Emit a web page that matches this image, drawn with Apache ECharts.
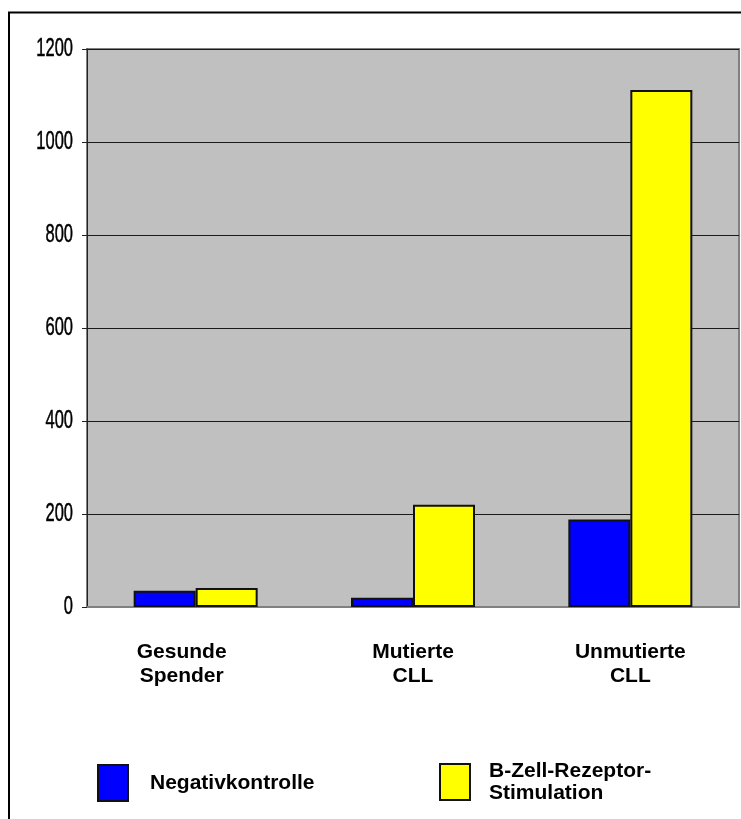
<!DOCTYPE html>
<html>
<head>
<meta charset="utf-8">
<script src="https://cdn.jsdelivr.net/npm/echarts@6/dist/echarts.min.js"></script>
<style>
  html, body { margin: 0; padding: 0; background: #ffffff; }
  #chart { width: 741px; height: 819px; }
</style>
</head>
<body>
<div id="chart"></div>
<script>
// Groups along the x axis and the two measured conditions
const categories = ['Gesunde\nSpender', 'Mutierte\nCLL', 'Unmutierte\nCLL'];
const negativkontrolle = [35, 20, 188];
const bzrStimulation = [41, 220, 1112];
const yTicks = [0, 200, 400, 600, 800, 1000, 1200];

const seriesNames = ['Negativkontrolle', 'B-Zell-Rezeptor-Stimulation'];
const labelShift = [28, 0, 0]; // extra right padding nudging wrapped labels left

const chart = echarts.init(document.getElementById('chart'), null, { renderer: 'canvas' });

const barBorder = { borderColor: '#111111', borderWidth: 2 };
const boldFont = 'Liberation Sans, Arial, sans-serif';

chart.setOption({
  animation: false,
  backgroundColor: '#ffffff',
  graphic: [{
    id: 'frame',
    type: 'rect',
    z: -10,
    shape: { x: 9, y: 12.5, width: 900, height: 900 },
    style: { fill: 'none', stroke: '#000000', lineWidth: 2 }
  }],
  grid: {
    left: 87, top: 49, right: 2, bottom: 212,
    show: true,
    backgroundColor: '#c0c0c0',
    borderColor: '#808080',
    borderWidth: 2
  },
  legend: [
    {
      data: [seriesNames[0]],
      left: 97, top: 764,
      padding: 0,
      icon: 'rect',
      itemWidth: 30, itemHeight: 36,
      itemStyle: { borderColor: '#111111', borderWidth: 2 },
      textStyle: {
        fontFamily: boldFont,
        fontWeight: 'bold', fontSize: 21, color: '#000000',
        padding: [0, 0, 4, 17]
      }
    },
    {
      data: [seriesNames[1]],
      left: 439, top: 753,
      padding: 0,
      icon: 'rect',
      itemWidth: 30, itemHeight: 36,
      itemStyle: { borderColor: '#111111', borderWidth: 2 },
      formatter: function (name) { return name.replace('Rezeptor-', 'Rezeptor-\n'); },
      textStyle: {
        fontFamily: boldFont,
        fontWeight: 'bold', fontSize: 21, color: '#000000',
        lineHeight: 22,
        padding: [0, 0, 14, 14]
      }
    }
  ],
  xAxis: {
    type: 'category',
    data: categories.map(function (c, i) {
      return { value: c, textStyle: { padding: [0, labelShift[i], 0, 0] } };
    }),
    axisLine: { lineStyle: { color: '#808080', width: 2 } },
    axisTick: { show: false },
    axisLabel: {
      margin: 33,
      fontFamily: boldFont,
      fontWeight: 'bold', fontSize: 21, lineHeight: 24,
      color: '#000000'
    },
    splitLine: { show: false }
  },
  yAxis: {
    type: 'value',
    min: yTicks[0],
    max: yTicks[yTicks.length - 1],
    interval: yTicks[1] - yTicks[0],
    axisLine: { show: true, lineStyle: { color: '#222222', width: 1 } },
    axisTick: { show: true, inside: false, length: 5, lineStyle: { color: '#222222' } },
    // tick numbers are drawn below as condensed text
    axisLabel: { show: false },
    splitLine: { show: true, lineStyle: { color: '#1a1a1a', width: 1 } }
  },
  series: [
    {
      name: seriesNames[0],
      type: 'bar',
      data: negativkontrolle,
      barWidth: 62,
      barGap: '0%',
      itemStyle: Object.assign({ color: '#0000ff' }, barBorder)
    },
    {
      name: seriesNames[1],
      type: 'bar',
      data: bzrStimulation,
      barWidth: 62,
      barGap: '0%',
      itemStyle: Object.assign({ color: '#ffff00' }, barBorder)
    }
  ]
});

// Narrow, tall tick numbers placed at the y axis' own pixel positions
const gridRect = chart.getModel().getComponent('grid', 0).coordinateSystem.getRect();
const tickTexts = yTicks.map(function (v, i) {
  return {
    id: 'ytick' + i,
    type: 'text',
    x: gridRect.x - 14,
    y: chart.convertToPixel({ yAxisIndex: 0 }, v),
    scaleX: 0.66,
    style: {
      text: String(v),
      fill: '#000000',
      stroke: '#000000',
      lineWidth: 0.5,
      fontFamily: 'Liberation Sans, Arial, sans-serif',
      fontSize: 25,
      align: 'right',
      verticalAlign: 'middle'
    }
  };
});
chart.setOption({ graphic: tickTexts });
</script>
</body>
</html>
